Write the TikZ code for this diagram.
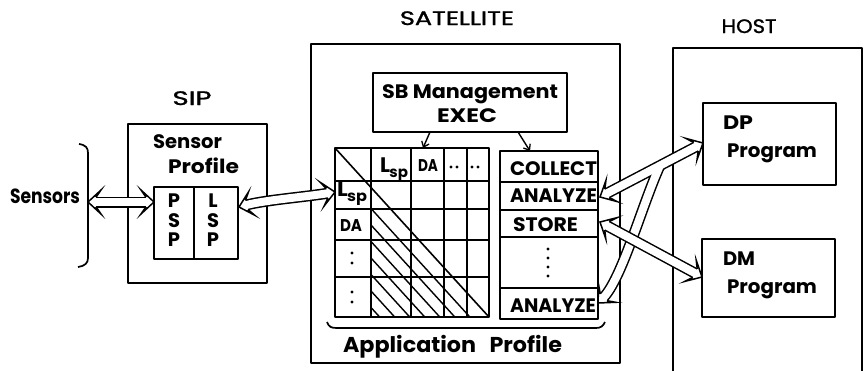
\documentclass[tikz,border=0pt]{standalone}
\usepackage{fontspec}
\setmainfont{Poppins}
\newfontfamily\medfont[FakeBold=1.2]{Poppins}
\usetikzlibrary{arrows.meta,decorations.markings}

% text squeezed or stretched to a given width, natural height kept
\newcommand\tw[2]{\resizebox{#1pt}{\height}{#2}}
\newcommand\fs[1]{\fontsize{#1}{#1}\selectfont}
\newcommand\Lsp[1]{L\kern-0.6pt\raisebox{-0.28em}{\fontsize{#1}{#1}\selectfont sp}}
% hollow barbed arrow head, tip at the origin, pointing along +x
\newcommand\hhead{\draw[line width=1.5pt, fill=white, line join=miter, miter limit=10]
  (-8,4.75) -- (-13,12) -- (0,0) -- (-13,-12) -- (-8,-4.75);}
% rectangular node from its corners
\newcommand\rbox[5]{\node[boxline, draw, minimum width={(#4-#2)*1pt}, minimum height={(#5-#3)*1pt}]
  (#1) at ({(#2+#4)/2},{(#3+#5)/2}) {};}

\tikzset{
  every node/.style={inner sep=0pt, outer sep=0pt},
  boxline/.style={line width=1.7pt},
  gridline/.style={line width=1.6pt},
  hatchline/.style={line width=1.4pt},
  title/.style={font=\medfont\fs{19.5}},
  lbl/.style={font=\bfseries\fs{19.5}},
  thinarrow/.style={line width=1.4pt, -{Straight Barb[length=5pt,width=8pt,line width=1.3pt]}},
  outerband/.style={line width=11pt, black},
  innerband/.style={line width=8pt, white},
  headend/.style={postaction={decorate, decoration={markings, mark=at position 1 with {\hhead}}}},
  headstart/.style={postaction={decorate, decoration={markings, mark=at position 0 with {\begin{scope}[xscale=-1]\hhead\end{scope}}}}},
}

\begin{document}
\begin{tikzpicture}[x=1pt, y=-1pt, line join=round]
\useasboundingbox (0,0) rectangle (868,370);

% ---- titles ----
\node[title, anchor=base] (tSat) at (457,25) {\tw{114}{SATELLITE}};
\node[title, anchor=base] (tHost) at (749,33) {\tw{55}{HOST}};
\node[title, anchor=base] (tSip) at (192,105) {\tw{39}{SIP}};

% ---- sensors ----
\node[lbl, anchor=base west, font=\bfseries\fs{20.5}] (tSensors) at (10,203) {\tw{70}{Sensors}};
\draw[boxline] (79,144) .. controls (86,145) and (88,148) .. (88,153) -- (88,258)
  .. controls (88,263) and (85,266) .. (78,267);

% ---- SIP ----
\rbox{sip}{128}{124}{267}{283}
\node[lbl, anchor=base west] (tSensor) at (153,148) {\tw{69}{Sensor}};
\node[lbl, anchor=base west] (tProfA) at (168,173) {\tw{71}{Profile}};
\rbox{psp}{154}{187}{194}{259}
\rbox{lsp}{194}{187}{238}{259}
\foreach \c/\y [count=\i] in {P/207,S/227,P/246}
  \node[lbl, anchor=base] (pspc\i) at (174,\y) {\c};
\foreach \c/\y [count=\i] in {L/207,S/227,P/246}
  \node[lbl, anchor=base] (lspc\i) at (213,\y) {\c};

% ---- satellite ----
\rbox{sat}{311}{44}{620}{363}
\rbox{sb}{373}{73}{567}{132}
\node[lbl, anchor=base west] (tSB) at (382,98) {\tw{176}{SB Management}};
\node[lbl, anchor=base west] (tExec) at (437,122) {\tw{60}{EXEC}};

% profile matrix
\rbox{mat}{335}{148}{489}{317}
\foreach \x in {371,411,444,467} \draw[gridline] (\x,148) -- (\x,317);
\foreach \y in {181,209,240,277} \draw[gridline] (335,\y) -- (489,\y);
\draw[gridline] (mat.north west) -- (mat.south east);
\begin{scope}
  \clip (371,209) rectangle (489,317);
  \foreach \o in {21,37.5,54,70.5,87,103.5,120}
    \draw[hatchline] (335,148+\o) -- (489,317+\o);
\end{scope}
\node[lbl, anchor=base west, font=\bfseries\fs{21}] (hLsp) at (380,172) {\tw{28}{\Lsp{15}}};
\node[lbl, anchor=base west, font=\bfseries\fs{17}] (hDA) at (418,171) {\tw{20}{DA}};
\node[lbl, anchor=base west, font=\bfseries\fs{21}] (rLsp) at (337,196) {\tw{30}{\Lsp{15}}};
\node[lbl, anchor=base west, font=\bfseries\fs{17}] (rDA) at (340,231) {\tw{22}{DA}};
\foreach \x/\y in {451/167,457/167,472/167,478/167,352/253,352/263,352/292,352/302}
  \fill (\x,\y) circle (1.7pt);

% activity list
\rbox{lst}{500}{151}{598}{319}
\foreach \y in {182,210,237,288} \draw[gridline] (500,\y) -- (598,\y);
\node[lbl, anchor=base west] (tCollect) at (510,175) {\tw{87}{COLLECT}};
\node[lbl, anchor=base west] (tAnA) at (510,202) {\tw{87}{ANALYZE}};
\node[lbl, anchor=base west] (tStore) at (513,231) {\tw{65}{STORE}};
\node[lbl, anchor=base west] (tAnB) at (510,312) {\tw{86}{ANALYZE}};
\foreach \y in {249,258,267,276} \fill (548,\y) circle (1.7pt);

% exec to matrix and list
\coordinate (exA) at (430,132); \coordinate (matIn) at (423,148);
\coordinate (exB) at (518,132); \coordinate (lstIn) at (530,151);
\draw[thinarrow] (exA) -- (matIn);
\draw[thinarrow] (exB) -- (lstIn);

% brace under the application profile
\draw[boxline] (327,322) .. controls (329,327) and (331,328) .. (337,328) -- (596,328)
  .. controls (601,328) and (603,326) .. (605,322);
\node[lbl, anchor=base west, font=\bfseries\fs{21.5}] (tApp) at (343,352) {\tw{219}{Application\hspace{0.6em}Profile}};

% ---- host ----
\draw[boxline] (673,372) -- (673,48) -- (862,48) -- (862,372);
\rbox{dp}{703}{103}{836}{185}
\node[lbl, anchor=base west] (tDP) at (723,129) {\tw{30}{DP}};
\node[lbl, anchor=base west] (tDPp) at (727,157) {\tw{90}{Program}};
\rbox{dm}{702}{239}{835}{317}
\node[lbl, anchor=base west] (tDM) at (723,265) {\tw{32}{DM}};
\node[lbl, anchor=base west] (tDMp) at (727,293) {\tw{90}{Program}};

% ---- hollow data-flow arrows ----
\coordinate (sensTip) at (88,202);
\coordinate (pspTip) at (154,202);
\coordinate (lspTip) at (239,207);
\coordinate (matTip) at (335,192);
\coordinate (anTip) at (600,197);
\coordinate (dpTip) at (703,143);
\coordinate (stTip) at (600,222);
\coordinate (dmTip) at (702,277);
\coordinate (anTwoTip) at (598,303);
\coordinate (fork) at (660,165.5);

% sensors <-> PSP
\draw[outerband, shorten <=7pt, shorten >=7pt] (sensTip) -- (pspTip);
\draw[innerband, shorten <=7pt, shorten >=7pt] (sensTip) -- (pspTip);
\path[headstart, headend] (sensTip) -- (pspTip);

% LSP <-> matrix
\draw[outerband, shorten <=7pt, shorten >=7pt] (lspTip) .. controls (265,200) and (305,197) .. (matTip);
\draw[innerband, shorten <=7pt, shorten >=7pt] (lspTip) .. controls (265,200) and (305,197) .. (matTip);
\path[headstart, headend] (lspTip) .. controls (265,200) and (305,197) .. (matTip);

% ANALYZE <-> DP, with a branch down to the last ANALYZE
\draw[outerband, shorten <=7pt, shorten >=7pt] (anTip) -- (dpTip);
\draw[outerband, shorten >=7pt] (fork) .. controls (642,205) and (622,279) .. (anTwoTip);
\draw[innerband, shorten <=7pt, shorten >=7pt] (anTip) -- (dpTip);
\draw[innerband, shorten >=7pt] (fork) .. controls (642,205) and (622,279) .. (anTwoTip);

% STORE <-> DM
\draw[outerband, shorten <=7pt, shorten >=7pt] (stTip) -- (dmTip);
\draw[innerband, shorten <=7pt, shorten >=7pt] (stTip) -- (dmTip);

\path[headstart, headend] (anTip) -- (dpTip);
\path[headend] (fork) .. controls (642,205) and (622,279) .. (anTwoTip);
\path[headstart, headend] (stTip) -- (dmTip);
\end{tikzpicture}
\end{document}
